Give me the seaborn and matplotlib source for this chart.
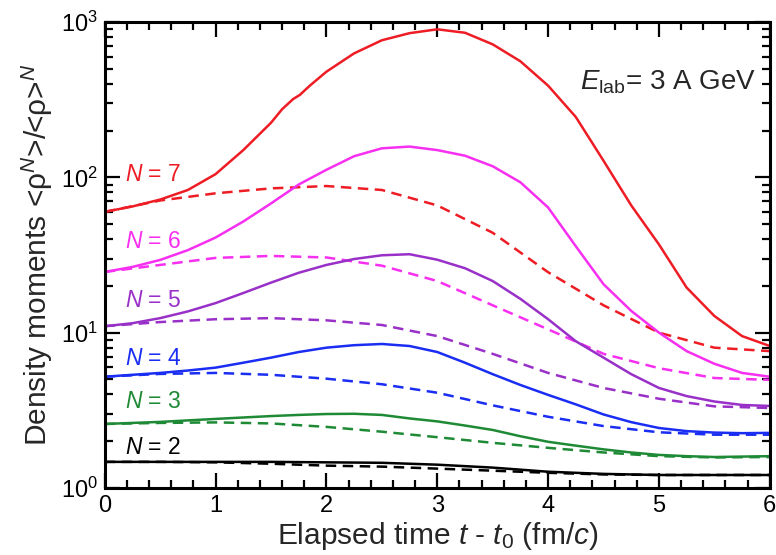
import numpy as np
import pandas as pd
import matplotlib
matplotlib.use("Agg")
import matplotlib.pyplot as plt
import seaborn as sns
from matplotlib.ticker import MultipleLocator, LogLocator, NullFormatter

# ---------------- data ----------------
t_red = [0, 0.25, 0.5, 0.75, 1, 1.25, 1.5, 1.6, 1.7, 1.76, 1.85, 2, 2.25, 2.5, 2.75,
         3, 3.25, 3.5, 3.75, 4, 4.25, 4.5, 4.75, 5, 5.25, 5.5, 5.75, 6]
n7_solid = [60, 65, 72, 83, 105, 150, 225, 275, 320, 340, 390, 480, 630, 765, 850,
            900, 855, 720, 560, 390, 245, 128, 66, 37, 19.5, 12.8, 9.5, 8.2]

t_q = [0, 0.25, 0.5, 0.75, 1, 1.25, 1.5, 1.75, 2, 2.25, 2.5, 2.75, 3,
       3.25, 3.5, 3.75, 4, 4.25, 4.5, 4.75, 5, 5.25, 5.5, 5.75, 6]
n6_solid = [24.6, 26.5, 29.4, 34, 41, 52, 68, 90, 112, 137, 154, 158, 150,
            138, 118, 93, 64, 36, 20.5, 13.8, 10, 7.6, 6.3, 5.5, 5.2]
n5_solid = [11, 11.5, 12.4, 13.7, 15.5, 18, 21, 24.3, 27.3, 29.8, 31.5, 32, 29.5,
            26, 21.5, 16.5, 12.2, 8.8, 6.9, 5.4, 4.4, 3.9, 3.6, 3.42, 3.37]
n4_solid = [5.2, 5.35, 5.5, 5.7, 5.95, 6.4, 6.9, 7.5, 8.0, 8.3, 8.45, 8.2, 7.5,
            6.4, 5.4, 4.6, 3.97, 3.45, 2.97, 2.65, 2.43, 2.32, 2.27, 2.25, 2.26]
n3_solid = [2.58, 2.62, 2.66, 2.72, 2.78, 2.84, 2.9, 2.95, 2.99, 3.0, 2.95, 2.8, 2.68,
            2.52, 2.36, 2.15, 1.98, 1.87, 1.77, 1.69, 1.63, 1.6, 1.58, 1.59, 1.6]

t_h = [0, 0.5, 1, 1.5, 2, 2.5, 3, 3.5, 4, 4.5, 5, 5.5, 6]
n7_dash = [60, 71, 79, 85, 88, 83, 66, 44, 24.5, 15, 10, 8.0, 7.6]
n6_dash = [24.6, 27.3, 30.3, 31.2, 30.5, 27, 21.5, 15, 10.5, 7.3, 5.9, 5.1, 4.96]
n5_dash = [11, 11.7, 12.2, 12.4, 12, 11.2, 9.5, 7.3, 5.5, 4.4, 3.75, 3.35, 3.27]
n4_dash = [5.2, 5.42, 5.5, 5.35, 5.05, 4.65, 4.1, 3.4, 2.87, 2.5, 2.28, 2.2, 2.2]
n3_dash = [2.58, 2.62, 2.64, 2.6, 2.47, 2.3, 2.12, 1.95, 1.81, 1.69, 1.6, 1.57, 1.58]
n2_solid = [1.47, 1.47, 1.47, 1.47, 1.46, 1.45, 1.41, 1.35, 1.27, 1.23, 1.21, 1.21, 1.21]
n2_dash = [1.47, 1.47, 1.46, 1.43, 1.39, 1.37, 1.33, 1.29, 1.25, 1.22, 1.21, 1.21, 1.21]

labels = ["N = 7", "N = 6", "N = 5", "N = 4", "N = 3", "N = 2"]
label_y = [105, 38.5, 16, 6.8, 3.6, 1.82]
colors = ["#ee1c24", "#f62ff0", "#9930c8", "#1a2df2", "#1f8a36", "#000000"]

# ---------------- style ----------------
sns.set_style("ticks")
plt.rcParams["font.family"] = ["Liberation Sans", "DejaVu Sans"]
plt.rcParams["mathtext.fontset"] = "custom"
plt.rcParams["mathtext.rm"] = "Liberation Sans"
plt.rcParams["mathtext.it"] = "Liberation Sans:italic"

fig = plt.figure(figsize=(7.76, 5.55), dpi=100)
ax = fig.add_axes([0.135, 0.121, 0.857, 0.839])

lw = 1.8
dash = (0, (4.2, 2.6))
solid_sets = [(t_red, n7_solid), (t_q, n6_solid), (t_q, n5_solid),
              (t_q, n4_solid), (t_q, n3_solid), (t_h, n2_solid)]
dash_sets = [n7_dash, n6_dash, n5_dash, n4_dash, n3_dash, n2_dash]

for (tt, vals), dvals, c in zip(solid_sets, dash_sets, colors):
    sns.lineplot(x=tt, y=vals, ax=ax, color=c, lw=lw)
    sns.lineplot(x=t_h, y=dvals, ax=ax, color=c, lw=lw, linestyle=dash)

ax.set_yscale("log")
ax.set_xlim(0, 6)
ax.set_ylim(1, 1000)

for lab, yv, c in zip(labels, label_y, colors):
    ax.text(0.18, yv, r"$\it{N}$" + lab[1:], color=c, fontsize=16.5, va="center", ha="left")

ax.text(0.715, 0.87, r"$\it{E}_{\rm lab}$= 3 A GeV", transform=ax.transAxes,
        fontsize=20, ha="left", va="center")

ax.set_xlabel(r"Elapsed time $\it{t}$ - $\it{t}_{\rm 0}$ (fm/$\it{c}$)", fontsize=21.5, labelpad=2)
ax.set_ylabel(r"Density moments <ρ$^{\it{N}}$>/<ρ>$^{\it{N}}$", fontsize=21.5, labelpad=4)

ax.xaxis.set_major_locator(MultipleLocator(1))
ax.xaxis.set_minor_locator(MultipleLocator(0.2))
ax.yaxis.set_major_locator(LogLocator(base=10, numticks=10))
ax.yaxis.set_minor_locator(LogLocator(base=10, subs=np.arange(2, 10), numticks=100))
ax.yaxis.set_minor_formatter(NullFormatter())

ax.tick_params(which="both", direction="in", top=True, right=True, colors="black",
               labelsize=17, width=1.6)
ax.tick_params(which="major", length=11, pad=5)
ax.tick_params(which="minor", length=6)
for s in ax.spines.values():
    s.set_linewidth(2.2)
    s.set_color("black")

fig.savefig("out.png", dpi=100)
